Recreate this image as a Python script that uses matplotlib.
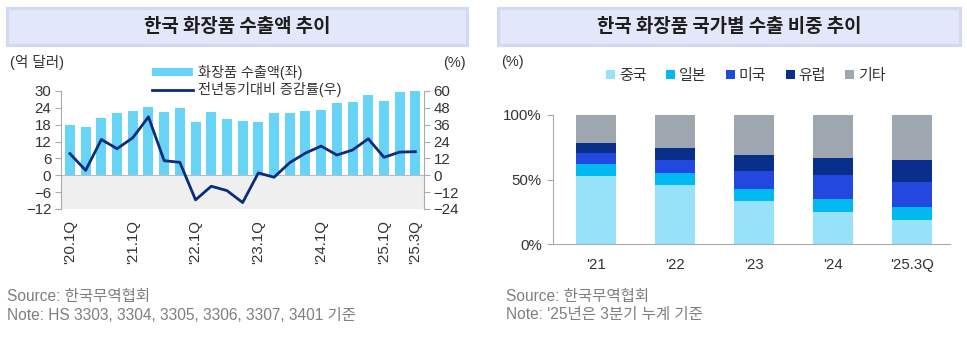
import matplotlib
matplotlib.use("Agg")
import matplotlib.pyplot as plt
from matplotlib.patches import Rectangle, Patch
from matplotlib.lines import Line2D
import numpy as np

plt.rcParams['font.family'] = ['Liberation Sans', 'Noto Sans CJK KR', 'DejaVu Sans']
plt.rcParams['axes.unicode_minus'] = True

# ---- data: left chart ----
quarters = ["'20.1Q", "'20.2Q", "'20.3Q", "'20.4Q",
            "'21.1Q", "'21.2Q", "'21.3Q", "'21.4Q",
            "'22.1Q", "'22.2Q", "'22.3Q", "'22.4Q",
            "'23.1Q", "'23.2Q", "'23.3Q", "'23.4Q",
            "'24.1Q", "'24.2Q", "'24.3Q", "'24.4Q",
            "'25.1Q", "'25.2Q", "'25.3Q"]
export_value = [17.8, 17.1, 20.3, 22.0, 22.8, 24.3, 22.5, 24.0,
                18.9, 22.5, 20.1, 19.5, 19.1, 22.2, 22.1, 22.8,
                23.4, 25.6, 26.1, 28.6, 26.3, 29.6, 30.0]
yoy_growth = [15.4, 3.5, 25.5, 18.9, 26.7, 41.6, 10.4, 9.2,
              -17.5, -7.8, -10.9, -19.4, 1.7, -1.4, 9.0, 15.8,
              20.8, 14.4, 18.0, 26.0, 12.8, 16.5, 16.8]
shown_quarters = ["'20.1Q", "'21.1Q", "'22.1Q", "'23.1Q", "'24.1Q", "'25.1Q", "'25.3Q"]

# ---- data: right chart ----
years = ["'21", "'22", "'23", "'24", "'25.3Q"]
share_china = [53.1, 45.6, 33.0, 24.7, 18.6]
share_japan = [8.8, 9.3, 9.5, 10.1, 10.0]
share_us = [9.0, 10.6, 13.9, 18.6, 19.3]
share_eu = [7.5, 8.7, 12.9, 13.6, 17.3]
share_other = [21.6, 25.8, 30.7, 33.0, 34.8]
region_names = ["중국", "일본", "미국", "유럽", "기타"]
region_colors = ["#97E2F8", "#00B9F1", "#2248E0", "#0A2F8B", "#9EA6AF"]

W, H = 967, 337
fig = plt.figure(figsize=(W / 100, H / 100), dpi=100)

def fx(px):
    return px / W

def fy(py):
    return 1 - py / H

# title boxes
for x0, x1, title in [(7, 467, "한국 화장품 수출액 추이"),
                      (498, 960, "한국 화장품 국가별 수출 비중 추이")]:
    fig.patches.append(Rectangle((fx(x0), fy(45)), fx(x1 - x0), (45 - 8) / H,
                                 transform=fig.transFigure, facecolor="#E3E7FA",
                                 edgecolor="#D3D9F4", linewidth=2.2))
    fig.text(fx((x0 + x1) / 2), fy(27), title, ha="center", va="center",
             fontsize=13.6, color="#1E1E1E", family=['Noto Sans CJK KR'],
             fontweight="bold")

tick_color = "#333333"
spine_color = "#AAAAAA"

# ---- left chart ----
ax = fig.add_axes([fx(61), fy(209), fx(424 - 61), (209 - 91) / H])
x = np.arange(len(quarters))
ax.axhspan(-12, 0, color="#EFEFEF", zorder=0, lw=0)
ax.bar(x, export_value, width=0.64, color="#67D3F5", zorder=2)
ax.axhline(0, color="#BBBBBB", lw=0.8, zorder=1)
ax.set_xlim(-0.57, 22.55)
ax.set_ylim(-12, 30)
ax.set_yticks(np.arange(-12, 31, 6))
ax.set_xticks([quarters.index(q) for q in shown_quarters])
ax.set_xticklabels(shown_quarters, rotation=90, fontsize=10.8, color=tick_color)
ax.tick_params(axis="x", length=0, pad=8)
ax.tick_params(axis="y", labelsize=10.8, colors=spine_color, labelcolor=tick_color,
               length=4, pad=3, width=0.8)
for s in ["top", "right", "bottom"]:
    ax.spines[s].set_visible(False)
ax.spines["left"].set_color(spine_color)
ax.spines["left"].set_linewidth(0.8)

ax2 = ax.twinx()
ax2.plot(x, yoy_growth, color="#0B2C7C", lw=2.0, zorder=3)
ax2.set_ylim(-24, 60)
ax2.set_yticks(np.arange(-24, 61, 12))
ax2.tick_params(axis="y", labelsize=10.8, colors=spine_color, labelcolor=tick_color,
                length=4, pad=3, width=0.8)
for s in ["top", "left", "bottom"]:
    ax2.spines[s].set_visible(False)
ax2.spines["right"].set_color(spine_color)
ax2.spines["right"].set_linewidth(0.8)

fig.text(fx(10), fy(63), "(억 달러)", ha="left", va="center", fontsize=10.5, color=tick_color)
fig.text(fx(466), fy(63), "(%)", ha="right", va="center", fontsize=10.5, color=tick_color)

handles = [Patch(facecolor="#67D3F5", edgecolor="none"),
           Line2D([], [], color="#0B2C7C", lw=2.0)]
fig.legend(handles, ["화장품 수출액(좌)", "전년동기대비 증감률(우)"],
           loc="upper left", bbox_to_anchor=(fx(141), fy(54)),
           frameon=False, fontsize=10.2, handlelength=2.9, handleheight=0.5,
           handletextpad=0.3, labelspacing=0.15, borderpad=0.3,
           labelcolor=tick_color)

# ---- right chart ----
bx = fig.add_axes([fx(553), fy(244), fx(950 - 553), (244 - 115) / H])
xr = np.arange(len(years))
bottom = np.zeros(len(years))
for vals, name, col in zip([share_china, share_japan, share_us, share_eu, share_other],
                           region_names, region_colors):
    bx.bar(xr, vals, bottom=bottom, width=0.51, color=col, label=name, zorder=2)
    bottom = bottom + np.array(vals)
bx.set_xlim(-0.54, 4.48)
bx.set_ylim(0, 100)
bx.set_yticks([0, 50, 100])
bx.set_yticklabels(["0%", "50%", "100%"])
bx.set_xticks(xr)
bx.set_xticklabels(years, fontsize=10.8, color=tick_color)
bx.tick_params(axis="x", length=0, pad=10)
bx.tick_params(axis="y", labelsize=10.8, colors=spine_color, labelcolor=tick_color,
               length=4, pad=4, width=0.8)
for s in ["top", "right"]:
    bx.spines[s].set_visible(False)
for s in ["left", "bottom"]:
    bx.spines[s].set_color(spine_color)
    bx.spines[s].set_linewidth(0.8)

fig.text(fx(501), fy(62), "(%)", ha="left", va="center", fontsize=10.5, color=tick_color)
bx.legend(loc="center", bbox_to_anchor=(fx(746), fy(76)), bbox_transform=fig.transFigure,
          ncol=5, frameon=False, fontsize=10.8, handlelength=0.6, handleheight=0.6,
          handletextpad=0.25, columnspacing=1.3, labelcolor=tick_color)

# ---- footers ----
foot_color = "#7F7F7F"
fs = 11.2
fig.text(fx(7), fy(297), "Source: 한국무역협회", ha="left", va="center", fontsize=fs, color=foot_color)
fig.text(fx(7), fy(315), "Note: HS 3303, 3304, 3305, 3306, 3307, 3401 기준", ha="left", va="center",
         fontsize=fs, color=foot_color)
fig.text(fx(506), fy(297), "Source: 한국무역협회", ha="left", va="center", fontsize=fs, color=foot_color)
fig.text(fx(506), fy(315), "Note: '25년은 3분기 누계 기준", ha="left", va="center",
         fontsize=fs, color=foot_color)

fig.savefig("out.png", dpi=100)
